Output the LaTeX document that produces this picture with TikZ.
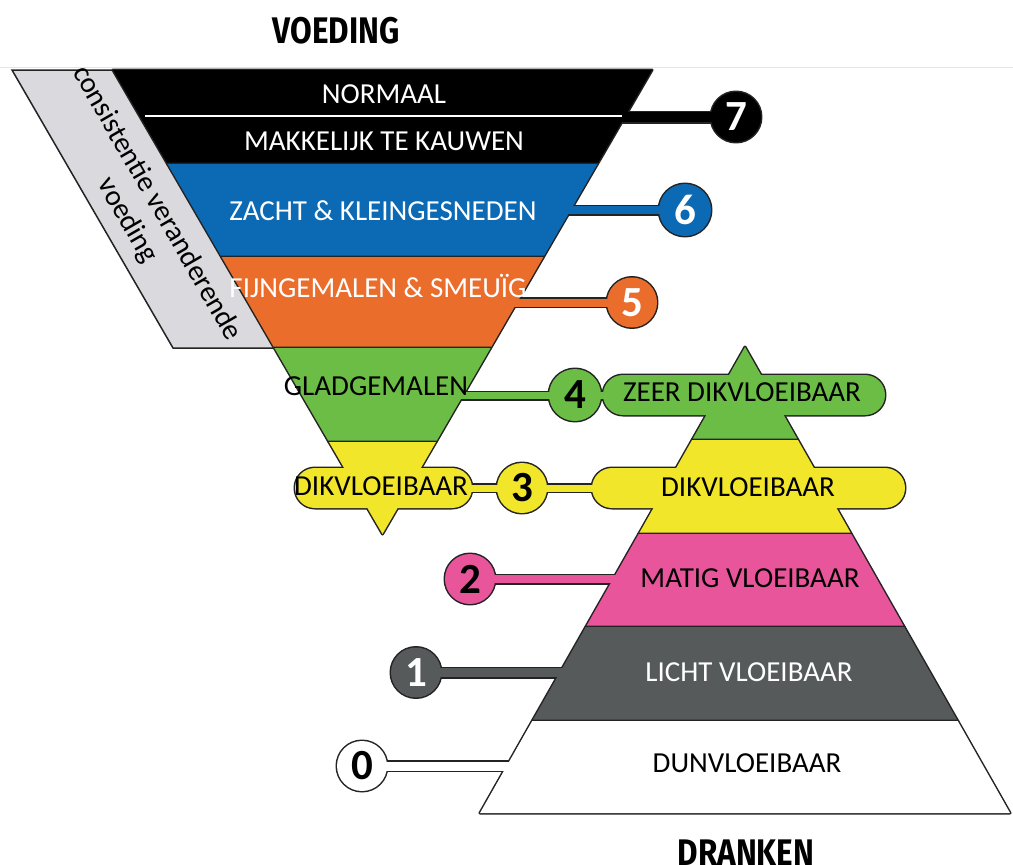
\documentclass[tikz,border=0pt]{standalone}
\usepackage{fontspec}
\setmainfont{Carlito}
\newfontfamily\titlefont{Fira Sans}
\usepackage{tikz}
\usetikzlibrary{calc}
\definecolor{iddsiblue}{RGB}{12,106,181}
\definecolor{iddsiorange}{RGB}{234,109,44}
\definecolor{iddsigreen}{RGB}{107,189,69}
\definecolor{iddsiyellow}{RGB}{242,230,42}
\definecolor{iddsipink}{RGB}{232,85,155}
\definecolor{iddsigrey}{RGB}{86,90,91}
\definecolor{sidegrey}{RGB}{217,217,222}
\definecolor{outline}{RGB}{35,35,35}

% one level = band + strip + dot, drawn twice (rim, then fill)
\newcommand{\levelseven}[1]{%
  \path[#1] (113,70) -- (652,70) -- (597.4,164) -- (167.6,164) -- cycle;
  \path[#1] ($(s7)+(0,-5)$) rectangle ($(c7)+(0,5)$);
  \path[#1] (c7) circle (25);}
\newcommand{\levelsix}[1]{%
  \path[#1] (167.6,164) -- (597.4,164) -- (543.4,257) -- (221.6,257) -- cycle;
  \path[#1] ($(s6)+(0,-4)$) rectangle ($(c6)+(0,4)$);
  \path[#1] (c6) circle (26);}
\newcommand{\levelfive}[1]{%
  \path[#1] (221.6,257) -- (543.4,257) -- (490.6,348) -- (274.4,348) -- cycle;
  \path[#1] ($(s5)+(0,-4)$) rectangle ($(c5)+(0,4)$);
  \path[#1] (c5) circle (25);}
\newcommand{\levelfour}[1]{%
  \path[#1] (274.4,348) -- (490.6,348) -- (436,442) -- (329,442) -- cycle;
  \path[#1] (745,347) -- (797.9,440) -- (692.1,440) -- cycle;
  \path[#1] ($(s4)+(0,-4)$) rectangle ($(p4)+(0,4)$);
  \path[#1, rounded corners=20pt] (603,375) rectangle (885,415);
  \path[#1] (c4) circle (26);}
\newcommand{\levelthree}[1]{%
  \path[#1] (329,442) -- (436,442) -- (382.5,534) -- cycle;
  \path[#1] (692.1,440) -- (797.9,440) -- (851.3,534) -- (638.7,534) -- cycle;
  \path[#1] ($(s3)+(0,-3.5)$) rectangle ($(p3)+(0,3.5)$);
  \path[#1, rounded corners=20pt] (295,468) rectangle (472,508);
  \path[#1, rounded corners=20pt] (592,468) rectangle (905,508);
  \path[#1] (c3) circle (25);}
\newcommand{\leveltwo}[1]{%
  \path[#1] (638.7,534) -- (851.3,534) -- (904.2,627) -- (585.8,627) -- cycle;
  \path[#1] ($(c2)+(0,-4)$) rectangle ($(s2)+(0,4)$);
  \path[#1] (c2) circle (25);}
\newcommand{\levelone}[1]{%
  \path[#1] (585.8,627) -- (904.2,627) -- (957.7,721) -- (532.3,721) -- cycle;
  \path[#1] ($(c1)+(0,-4.5)$) rectangle ($(s1)+(0,4.5)$);
  \path[#1] (c1) circle (25);}
\newcommand{\levelzero}[1]{%
  \path[#1] (532.3,721) -- (957.7,721) -- (1010,813) -- (480,813) -- cycle;
  \path[#1] ($(c0)+(0,-4.5)$) rectangle ($(s0)+(0,4.5)$);
  \path[#1] (c0) circle (25);}

\begin{document}
\begin{tikzpicture}[x=1pt, y=-1pt,
    rim/.style={draw=outline, line width=3pt, line join=round},
    num/.style={circle, minimum size=50pt, inner sep=0pt, font=\fontsize{43}{43}\selectfont\bfseries},
    lbl/.style={font=\fontsize{29}{31}\selectfont},
    title/.style={font=\titlefont\fontsize{37}{40}\selectfont\bfseries, xscale=0.85}
]
    \useasboundingbox (0,0) rectangle (1013,865);
    \draw[gray!20, line width=1pt] (0,67) -- (1013,67);

    % dots and strip ends
    \coordinate (c7) at (736,117);  \coordinate (s7) at (615,117);
    \coordinate (c6) at (685,210);  \coordinate (s6) at (560,210);
    \coordinate (c5) at (632,302.5);\coordinate (s5) at (505,302.5);
    \coordinate (c4) at (575,395);  \coordinate (s4) at (450,396);
    \coordinate (p4) at (620,395);
    \coordinate (c3) at (522,488);  \coordinate (s3) at (460,488);
    \coordinate (p3) at (610,488);
    \coordinate (c2) at (470,579);  \coordinate (s2) at (625,579);
    \coordinate (c1) at (416,672.5);\coordinate (s1) at (570,672.5);
    \coordinate (c0) at (362,766);  \coordinate (s0) at (515,766);

    % side label
    \draw[outline, line width=1.5pt, fill=sidegrey] (12,70) -- (113,70) -- (274.4,348) -- (173,348) -- cycle;

    % levels, top to bottom
    \levelseven{rim}\levelseven{fill=black}
    \draw[white, line width=2pt] (145,115.5) -- (622,115.5);
    \levelsix{rim}\levelsix{fill=iddsiblue}
    \levelfive{rim}\levelfive{fill=iddsiorange}
    \levelfour{rim}\levelfour{fill=iddsigreen}
    \levelthree{rim}\levelthree{fill=iddsiyellow}
    \leveltwo{rim}\leveltwo{fill=iddsipink}
    \levelone{rim}\levelone{fill=iddsigrey}
    \levelzero{rim}\levelzero{fill=white}

    % numbers
    \node[num, text=white] (n7) at (c7) {7};
    \node[num, text=white] (n6) at (c6) {6};
    \node[num, text=white] (n5) at (c5) {5};
    \node[num] (n4) at (c4) {4};
    \node[num] (n3) at (c3) {3};
    \node[num] (n2) at (c2) {2};
    \node[num, text=white] (n1) at (c1) {1};
    \node[num] (n0) at (c0) {0};

    % food labels
    \node[lbl, text=white] (normaal) at (384,94) {NORMAAL};
    \node[lbl, text=white] (kauwen) at (384,141) {MAKKELIJK TE KAUWEN};
    \node[lbl, text=white] (zacht) at (383,211) {ZACHT \& KLEINGESNEDEN};
    \node[lbl, text=white] (fijn) at (378,286) {FIJNGEMALEN \& SMEUÏG};
    \node[lbl] (glad) at (376,386) {GLADGEMALEN};
    \node[lbl] (dikfood) at (381,486) {DIKVLOEIBAAR};

    % drink labels
    \node[lbl] (zeerdik) at (742,392) {ZEER DIKVLOEIBAAR};
    \node[lbl] (dikdrink) at (748,487) {DIKVLOEIBAAR};
    \node[lbl] (matig) at (750,578) {MATIG VLOEIBAAR};
    \node[lbl, text=white] (licht) at (749,672) {LICHT VLOEIBAAR};
    \node[lbl] (dun) at (747,763) {DUNVLOEIBAAR};

    \node[lbl, rotate=-60, align=center, font=\fontsize{29}{34}\selectfont] (side) at (142,212) {consistentie veranderende\\voeding};

    % titles
    \node[title] (voeding) at (336,31) {VOEDING};
    \node[title] (dranken) at (746,853) {DRANKEN};
\end{tikzpicture}
\end{document}
